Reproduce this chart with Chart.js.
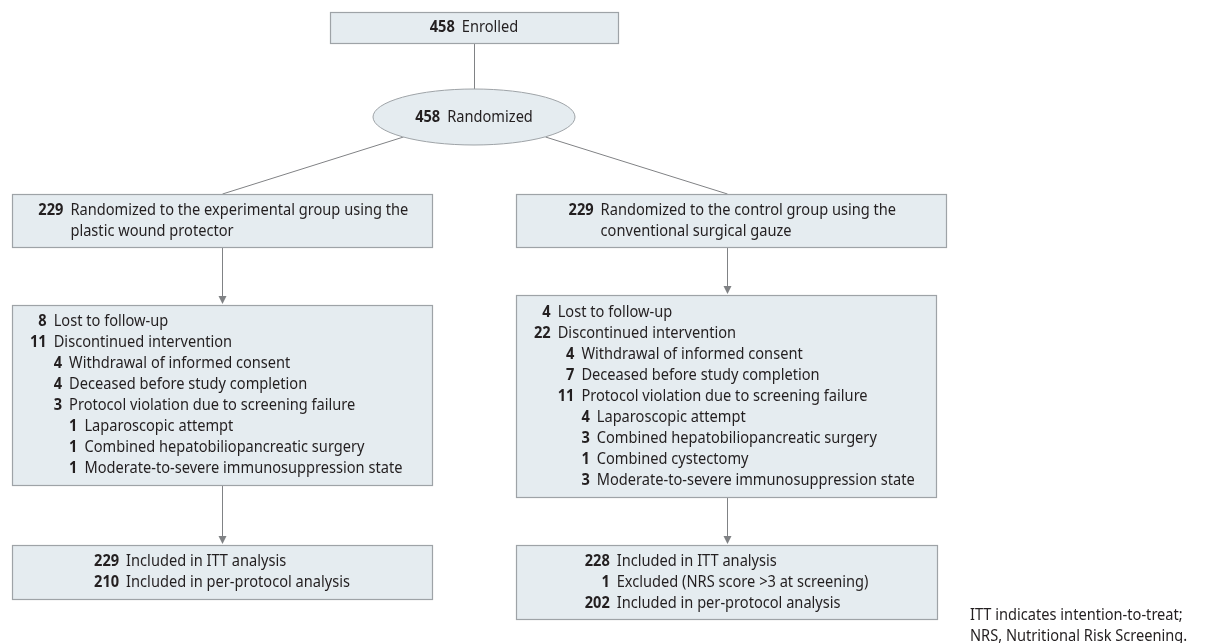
<!DOCTYPE html>
<html>
<head>
<meta charset="utf-8">
<script src="https://cdn.jsdelivr.net/npm/chart.js@4"></script>
<style>
  html, body { margin: 0; padding: 0; background: #fff; }
  #wrap { width: 1214px; height: 643px; position: relative; }
</style>
</head>
<body>
<div id="wrap"><canvas id="flowChart"></canvas></div>
<script>
// Flow counts and labels
const enrolledCount = 458;
const randomizedCount = 458;

const armCounts = [229, 229];
const armLines = [
    ["Randomized to the experimental group using the", "plastic wound protector"],
    ["Randomized to the control group using the", "conventional surgical gauze"]
];

const expFollowCounts = [8, 11, 4, 4, 3, 1, 1, 1];
const expFollowLevels = [0, 0, 1, 1, 1, 2, 2, 2];
const expFollowLabels = [
    "Lost to follow-up",
    "Discontinued intervention",
    "Withdrawal of informed consent",
    "Deceased before study completion",
    "Protocol violation due to screening failure",
    "Laparoscopic attempt",
    "Combined hepatobiliopancreatic surgery",
    "Moderate-to-severe immunosuppression state"
];

const ctrlFollowCounts = [4, 22, 4, 7, 11, 4, 3, 1, 3];
const ctrlFollowLevels = [0, 0, 1, 1, 1, 2, 2, 2, 2];
const ctrlFollowLabels = [
    "Lost to follow-up",
    "Discontinued intervention",
    "Withdrawal of informed consent",
    "Deceased before study completion",
    "Protocol violation due to screening failure",
    "Laparoscopic attempt",
    "Combined hepatobiliopancreatic surgery",
    "Combined cystectomy",
    "Moderate-to-severe immunosuppression state"
];

const expAnalysisCounts = [229, 210];
const expAnalysisLabels = ["Included in ITT analysis", "Included in per-protocol analysis"];
const ctrlAnalysisCounts = [228, 1, 202];
const ctrlAnalysisLabels = ["Included in ITT analysis", "Excluded (NRS score >3 at screening)", "Included in per-protocol analysis"];

const footnoteLines = ["ITT indicates intention-to-treat;", "NRS, Nutritional Risk Screening."];

// Layout (in axis units, 1 unit = 1 px)
const layout = {
    enrolled: { x0: 330, y0: 12, x1: 618, y1: 43 },
    randomized: { cx: 474, cy: 117, rx: 101, ry: 28 },
    arms: [{ x0: 12, y0: 194, x1: 432, y1: 247 }, { x0: 516, y0: 194, x1: 946, y1: 247 }],
    followUp: [{ x0: 12, y0: 305, x1: 432, y1: 485 }, { x0: 516, y0: 295, x1: 936, y1: 497 }],
    analysis: [{ x0: 12, y0: 545, x1: 432, y1: 599 }, { x0: 516, y0: 545, x1: 937, y1: 619 }],
    stems: [222, 727],
    footnote: { x: 970, y: 615 }
};

const style = {
    fill: "#e5ecf0",
    border: "#9ea3a7",
    line: "#808285",
    text: "#231f20",
    fontFamily: "'Noto Sans', 'Open Sans', sans-serif",
    fontSize: 16,
    lineHeight: 21,
    gap: 7,
    indent: 18
};

const flowPlugin = {
    id: "flow",
    afterDraw(chart) {
        const ctx = chart.ctx;
        const sx = chart.scales.x;
        const sy = chart.scales.y;
        const px = v => sx.getPixelForValue(v);
        const py = v => sy.getPixelForValue(v);

        function setFont(bold) {
            ctx.font = (bold ? "bold " : "") + style.fontSize + "px " + style.fontFamily;
        }
        // squeeze text to look like the condensed face of the original
        setFont(false);
        const squeeze = 318 / ctx.measureText("Moderate-to-severe immunosuppression state").width;

        function measure(str, bold) {
            setFont(bold);
            return ctx.measureText(str).width * squeeze;
        }
        function text(str, x, y, bold, align) {
            setFont(bold);
            ctx.save();
            ctx.translate(px(x), py(y));
            ctx.scale(squeeze, 1);
            ctx.fillStyle = style.text;
            ctx.textAlign = align || "left";
            ctx.textBaseline = "middle";
            ctx.fillText(str, 0, 0);
            ctx.restore();
        }
        function box(b) {
            ctx.save();
            ctx.fillStyle = style.fill;
            ctx.strokeStyle = style.border;
            ctx.lineWidth = 1.2;
            const x = px(b.x0), y = py(b.y0);
            ctx.fillRect(x, y, px(b.x1) - x, py(b.y1) - y);
            ctx.strokeRect(x + 0.5, y + 0.5, px(b.x1) - x, py(b.y1) - y);
            ctx.restore();
        }
        function line(x0, y0, x1, y1) {
            ctx.save();
            ctx.strokeStyle = style.line;
            ctx.lineWidth = 1;
            ctx.beginPath();
            ctx.moveTo(px(x0) + 0.5, py(y0));
            ctx.lineTo(px(x1) + 0.5, py(y1));
            ctx.stroke();
            ctx.restore();
        }
        function arrow(x, y0, y1) {
            line(x, y0, x, y1 - 6);
            ctx.save();
            ctx.fillStyle = style.line;
            ctx.beginPath();
            ctx.moveTo(px(x) + 0.5, py(y1) - 1);
            ctx.lineTo(px(x) - 3.5, py(y1) - 9);
            ctx.lineTo(px(x) + 4.5, py(y1) - 9);
            ctx.closePath();
            ctx.fill();
            ctx.restore();
        }
        // number + label on one line, centered as a block
        function centeredRows(b, counts, labels) {
            const numW = Math.max(...counts.map(c => measure(String(c), true)));
            const labW = Math.max(...labels.map(l => measure(l, false)));
            const left = (b.x0 + b.x1) / 2 - (numW + style.gap + labW) / 2;
            const top = (b.y0 + b.y1) / 2 - (labels.length - 1) * style.lineHeight / 2;
            labels.forEach((l, i) => {
                const y = top + i * style.lineHeight;
                if (counts[i] !== null) text(String(counts[i]), left + numW, y, true, "right");
                text(l, left + numW + style.gap, y, false, "left");
            });
        }
        // indented list, numbers right aligned per level
        function levelRows(b, counts, labels, levels) {
            const maxLevel = Math.max(...levels);
            const numRight = [], textX = [];
            for (let k = 0; k <= maxLevel; k++) {
                const w = Math.max(...counts.filter((c, i) => levels[i] === k).map(c => measure(String(c), true)));
                numRight[k] = (k === 0 ? b.x0 + style.indent : textX[k - 1]) + w;
                textX[k] = numRight[k] + style.gap;
            }
            const top = (b.y0 + b.y1) / 2 - (labels.length - 1) * style.lineHeight / 2;
            labels.forEach((l, i) => {
                const y = top + i * style.lineHeight;
                text(String(counts[i]), numRight[levels[i]], y, true, "right");
                text(l, textX[levels[i]], y, false, "left");
            });
        }

        const e = layout.enrolled, r = layout.randomized;

        // connectors
        line(r.cx, e.y1, r.cx, r.cy - r.ry);
        line(r.cx - 71, r.cy + 20, layout.stems[0], layout.arms[0].y0);
        line(r.cx + 71, r.cy + 20, layout.stems[1], layout.arms[1].y0);
        for (let i = 0; i < 2; i++) {
            arrow(layout.stems[i], layout.arms[i].y1, layout.followUp[i].y0);
            arrow(layout.stems[i], layout.followUp[i].y1, layout.analysis[i].y0);
        }

        // enrolled box
        box(e);
        centeredRows(e, [enrolledCount], ["Enrolled"]);

        // randomized ellipse
        ctx.save();
        ctx.fillStyle = style.fill;
        ctx.strokeStyle = style.border;
        ctx.lineWidth = 1;
        ctx.beginPath();
        ctx.ellipse(px(r.cx), py(r.cy), r.rx, r.ry, 0, 0, Math.PI * 2);
        ctx.fill();
        ctx.stroke();
        ctx.restore();
        centeredRows({ x0: r.cx - r.rx, x1: r.cx + r.rx, y0: r.cy, y1: r.cy }, [randomizedCount], ["Randomized"]);

        // arm boxes
        layout.arms.forEach((b, i) => {
            box(b);
            centeredRows(b, [armCounts[i], null], armLines[i]);
        });

        // follow-up boxes
        box(layout.followUp[0]);
        levelRows(layout.followUp[0], expFollowCounts, expFollowLabels, expFollowLevels);
        box(layout.followUp[1]);
        levelRows(layout.followUp[1], ctrlFollowCounts, ctrlFollowLabels, ctrlFollowLevels);

        // analysis boxes
        box(layout.analysis[0]);
        centeredRows(layout.analysis[0], expAnalysisCounts, expAnalysisLabels);
        box(layout.analysis[1]);
        centeredRows(layout.analysis[1], ctrlAnalysisCounts, ctrlAnalysisLabels);

        // footnote
        footnoteLines.forEach((l, i) => {
            text(l, layout.footnote.x, layout.footnote.y + i * style.lineHeight, false, "left");
        });
    }
};

document.addEventListener("DOMContentLoaded", () => {
    const ctx = document.getElementById("flowChart");

    new Chart(ctx, {
        type: "scatter",
        data: { datasets: [] },
        options: {
            responsive: true,
            maintainAspectRatio: false,
            animation: false,
            events: [],
            layout: { padding: 0 },
            plugins: {
                legend: { display: false },
                tooltip: { enabled: false }
            },
            scales: {
                x: { type: "linear", min: 0, max: 1214, display: false },
                y: { type: "linear", min: 0, max: 643, reverse: true, display: false }
            }
        },
        plugins: [flowPlugin]
    });
});
</script>
</body>
</html>
